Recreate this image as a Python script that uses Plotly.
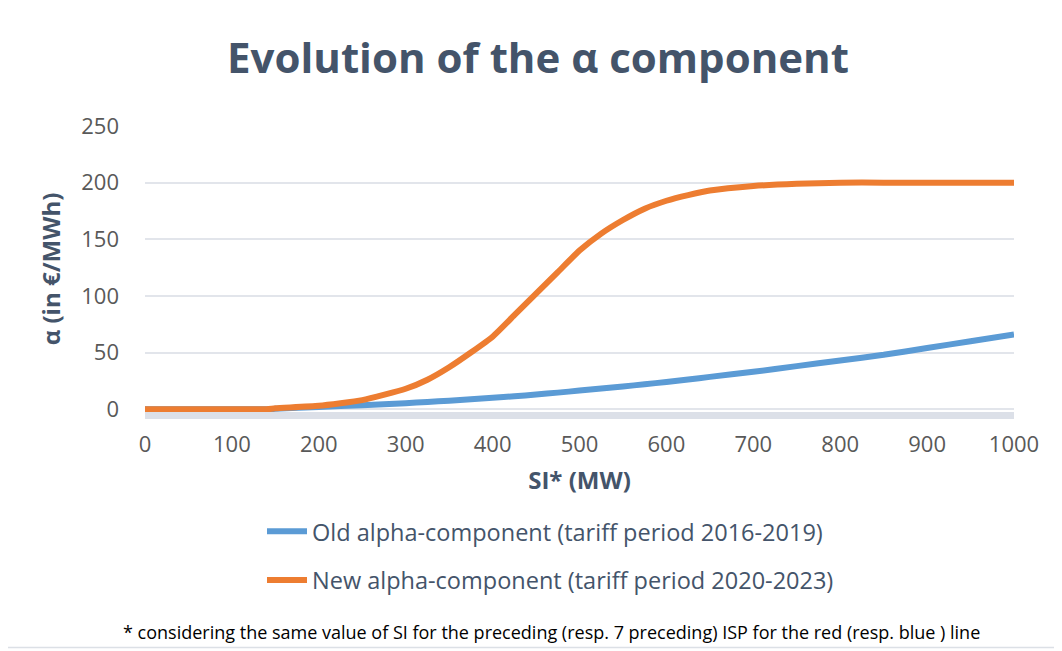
import plotly.graph_objects as go

# Data
si_mw = [0, 50, 100, 140, 150, 200, 250, 300, 325, 350, 375, 400, 425, 450,
         475, 500, 525, 550, 575, 600, 625, 650, 700, 750, 800, 850, 900,
         950, 1000]
old_alpha = [0, 0, 0, 0, 0.3, 2, 3.5, 5.3, 6.4, 7.5, 8.7, 10, 11.4, 12.9,
             14.6, 16.4, 18.2, 20, 22, 24, 26.2, 28.5, 33, 38, 43, 48, 54,
             60, 66]
new_alpha = [0, 0, 0, 0, 0.8, 3, 8, 18, 26, 37, 50, 64, 83, 102,
             121, 140, 155, 167, 177, 184, 189, 193, 197, 199, 200, 200, 200,
             200, 200]

old_name = "Old alpha-component (tariff period 2016-2019)"
new_name = "New alpha-component (tariff period 2020-2023)"
title_text = "Evolution of the α component"
x_title = "SI* (MW)"
y_title = "α (in €/MWh)"
footnote = "* considering the same value of SI for the preceding (resp. 7 preceding) ISP for the red (resp. blue ) line"

x_ticks = list(range(0, 1001, 100))
y_ticks = list(range(0, 251, 50))

FONT = "Open Sans"
SLATE = "#44546A"
GREY = "#595959"

# page has an 8px body margin -> figure origin is at (8, 8) in the window
OFF = 8
W, H = 1062 - OFF, 651 - OFF
PL, PR, PT, PB = 145, 1014, 126, 412.3      # plot area in window pixels
PW, PH = PR - PL, PB - PT


def px(xw):
    return (xw - PL) / PW


def py(yw):
    return (PB - yw) / PH


fig = go.Figure()
fig.add_trace(go.Scatter(x=si_mw, y=old_alpha, mode="lines", name=old_name,
                         line=dict(color="#5B9BD5", width=6, shape="spline", smoothing=0.5),
                         legendgroup="old"))
fig.add_trace(go.Scatter(x=si_mw, y=new_alpha, mode="lines", name=new_name,
                         line=dict(color="#ED7D31", width=6, shape="spline", smoothing=0.5),
                         legendgroup="new"))

fig.update_layout(
    width=W, height=H,
    paper_bgcolor="white", plot_bgcolor="white",
    margin=dict(l=PL - OFF, r=W - (PR - OFF), t=PT - OFF, b=H - (PB - OFF)),
    title=dict(text=f"<b>{title_text}</b>", x=(538 - OFF) / W, xanchor="center",
               y=1 - (58 - OFF) / H, yanchor="middle",
               font=dict(family=FONT, size=42, color=SLATE)),
    xaxis=dict(range=[0, 1000], tickvals=x_ticks, showgrid=False,
               zeroline=False, showline=True, linecolor="#DCE0E8", linewidth=7,
               ticks="", ticklabelstandoff=7,
               tickfont=dict(family=FONT, size=22, color=GREY),
               title=dict(text=f"<b>{x_title}</b>", standoff=17,
                          font=dict(family=FONT, size=24, color=SLATE))),
    yaxis=dict(range=[-2.5, 250], tickvals=y_ticks, showgrid=True,
               gridcolor="#E2E5EB", gridwidth=2, zeroline=False, showline=False,
               ticks="", ticklabelstandoff=25,
               tickfont=dict(family=FONT, size=22, color=GREY),
               title=dict(text=f"<b>{y_title}</b>", standoff=13,
                          font=dict(family=FONT, size=24, color=SLATE))),
    showlegend=True,
    legend=dict(x=px(262), xanchor="left", y=py(510), yanchor="top",
                orientation="v", traceorder="grouped", tracegroupgap=15,
                itemwidth=40,
                font=dict(family=FONT, size=23.5, color=SLATE),
                bgcolor="rgba(0,0,0,0)"),
    annotations=[dict(text=footnote, xref="paper", yref="paper",
                      x=px(551), y=py(633), xanchor="center",
                      yanchor="middle", showarrow=False,
                      font=dict(family=FONT, size=18, color="#000000"))],
    shapes=[dict(type="rect", xref="paper", yref="paper",
                 x0=px(3), x1=px(1075),
                 y0=py(648), y1=py(6),
                 line=dict(color="#DCE0E6", width=1.5), layer="below")],
)

fig.write_html("out.html")
